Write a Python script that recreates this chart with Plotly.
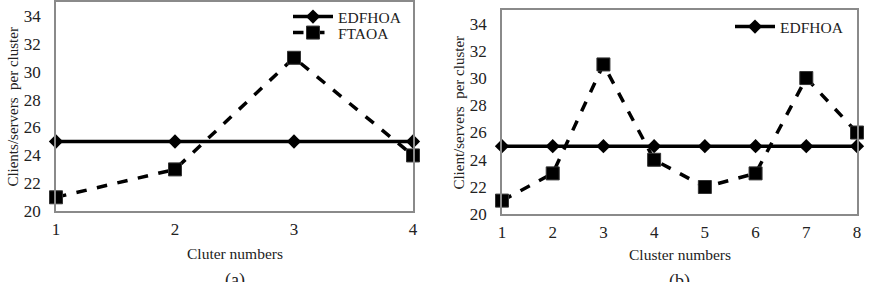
import plotly.graph_objects as go

# Data
clusters_a = [1, 2, 3, 4]
edfhoa_a = [25, 25, 25, 25]
ftaoa_a = [21, 23, 31, 24]

clusters_b = [1, 2, 3, 4, 5, 6, 7, 8]
edfhoa_b = [25, 25, 25, 25, 25, 25, 25, 25]
ftaoa_b = [21, 23, 31, 24, 22, 23, 30, 26]

y_ticks = [20, 22, 24, 26, 28, 30, 32, 34]

W, H = 874, 282
FONT = "Liberation Serif"
TXT = "#222"

fig = go.Figure()

solid = dict(color="black", width=3.5)
dashed = dict(color="black", width=3.5, dash="dash")
dmark = dict(symbol="diamond", size=11, color="black")
smark = dict(symbol="square", size=13, color="black", line=dict(color="#333", width=1))

fig.add_trace(go.Scatter(x=clusters_a, y=edfhoa_a, mode="lines+markers", name="EDFHOA",
                         line=solid, marker=dmark, xaxis="x", yaxis="y", cliponaxis=False,
                         legend="legend"))
fig.add_trace(go.Scatter(x=clusters_a, y=ftaoa_a, mode="lines+markers", name="FTAOA",
                         line=dashed, marker=smark, xaxis="x", yaxis="y", cliponaxis=False,
                         legend="legend3"))
fig.add_trace(go.Scatter(x=clusters_b, y=edfhoa_b, mode="lines+markers", name="EDFHOA",
                         line=solid, marker=dmark, xaxis="x2", yaxis="y2", cliponaxis=False,
                         legend="legend2"))
fig.add_trace(go.Scatter(x=clusters_b, y=ftaoa_b, mode="lines+markers", name="FTAOA",
                         line=dashed, marker=smark, xaxis="x2", yaxis="y2", cliponaxis=False,
                         showlegend=False))

axis_common = dict(showgrid=False, zeroline=False, showline=True, mirror=True,
                   linecolor="#8a8a8a", linewidth=1.5, ticks="", automargin=False,
                   tickfont=dict(family=FONT, size=17, color=TXT))

leg_common = dict(xanchor="left", yanchor="middle", bgcolor="rgba(0,0,0,0)",
                  font=dict(family=FONT, size=15.5, color=TXT), itemwidth=40,
                  borderwidth=0)

fig.update_layout(
    template="none",
    width=W, height=H,
    margin=dict(l=0, r=0, t=0, b=0, pad=0),
    paper_bgcolor="white", plot_bgcolor="white",
    font=dict(family=FONT, color=TXT),
    xaxis=dict(domain=[56 / W, 413 / W], range=[1, 4], tickvals=clusters_a,
               anchor="y", ticklabelstandoff=2, **axis_common),
    yaxis=dict(domain=[1 - 211 / H, 1 - 1 / H], range=[20, 35], tickvals=y_ticks,
               anchor="x", ticklabelstandoff=10, **axis_common),
    xaxis2=dict(domain=[502 / W, 857 / W], range=[1, 8], tickvals=clusters_b,
                anchor="y2", ticklabelstandoff=2, **axis_common),
    yaxis2=dict(domain=[1 - 214 / H, 1 - 9 / H], range=[20, 35], tickvals=y_ticks,
                anchor="x2", ticklabelstandoff=10, **axis_common),
    legend=dict(x=288 / W, y=1 - 16 / H, **leg_common),
    legend3=dict(x=288 / W, y=1 - 33 / H, **leg_common),
    legend2=dict(x=730 / W, y=1 - 27 / H, **leg_common),
    showlegend=True,
)

def label(text, x, y, size, angle=0):
    return dict(text=text, x=x / W, y=1 - y / H, xref="paper", yref="paper",
                xanchor="center", yanchor="middle", showarrow=False, textangle=angle,
                font=dict(family=FONT, size=size, color=TXT))

ann = [
    label("Cluter numbers", (56 + 413) / 2, 253, 15.5),
    label("(a)", (56 + 413) / 2, 280, 18),
    label("Clients/servers  per cluster", 13, 106, 15, -90),
    label("Cluster numbers", (502 + 857) / 2, 254, 15.5),
    label("(b)", (502 + 857) / 2, 281, 18),
    label("Client/servers  per cluster", 459, 112, 15, -90),
]
fig.update_layout(annotations=ann)

fig.write_html("out.html")
